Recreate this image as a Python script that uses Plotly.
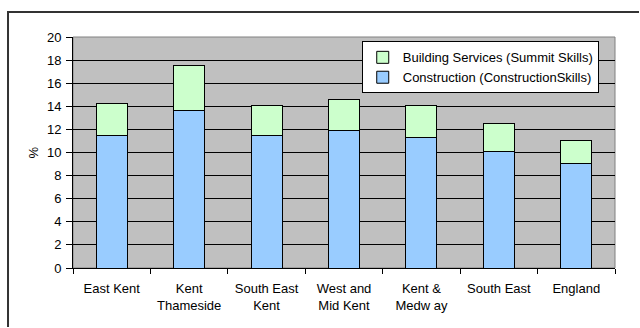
import plotly.graph_objects as go

areas = ["East Kent", "Kent<br>Thameside", "South East<br>Kent", "West and<br>Mid Kent",
         "Kent &<br>Medw ay", "South East", "England"]
construction = [11.43, 13.68, 11.43, 11.92, 11.31, 10.10, 9.03]
building_services = [2.82, 3.86, 2.65, 2.71, 2.77, 2.37, 2.05]
y_ticks = list(range(0, 21, 2))

font = dict(family="Arial, Liberation Sans, sans-serif", size=13, color="black")

W, H = 640, 328
ML, MR, MT, MB = 73, 25, 37, 60
pw, ph = W - ML - MR, H - MT - MB


def px_x(x):
    return (x - ML) / pw


def px_y(y):
    return 1 - (y - MT) / ph


# open path for the chart frame: up the left edge, then along the top
frame_path = "M {:.4f},{:.4f} L {:.4f},{:.4f} L {:.4f},{:.4f}".format(
    px_x(8), px_y(H - 1), px_x(8), px_y(12), px_x(W - 1), px_y(12))

fig = go.Figure()
fig.add_bar(x=areas, y=construction, name="Construction (ConstructionSkills)",
            marker=dict(color="#99CCFF", line=dict(color="black", width=1)))
fig.add_bar(x=areas, y=building_services, name="Building Services (Summit Skills)",
            marker=dict(color="#CCFFCC", line=dict(color="black", width=1)))

fig.update_layout(
    barmode="stack",
    bargap=0.6,
    width=W, height=H,
    margin=dict(l=ML, r=MR, t=MT, b=MB),
    paper_bgcolor="white",
    plot_bgcolor="#C0C0C0",
    font=font,
    showlegend=True,
    legend=dict(
        x=0.970, y=0.981, xanchor="right", yanchor="top",
        bgcolor="white", bordercolor="black", borderwidth=1,
        traceorder="reversed", font=font,
        itemwidth=30, tracegroupgap=0,
    ),
    xaxis=dict(
        showline=True, linecolor="black", linewidth=1,
        ticks="outside", tickson="boundaries", ticklen=5, tickcolor="black",
        showgrid=False, tickfont=font, ticklabelstandoff=8,
    ),
    yaxis=dict(
        range=[0, 20], tickvals=y_ticks,
        showline=True, linecolor="black", linewidth=1,
        ticks="outside", ticklen=6, tickcolor="black",
        showgrid=True, gridcolor="black", gridwidth=1,
        zeroline=False, tickfont=font, ticklabelstandoff=2,
    ),
    annotations=[
        dict(text="%", xref="paper", yref="paper", x=px_x(33), y=0.5,
             textangle=-90, showarrow=False, font=font,
             xanchor="center", yanchor="middle"),
    ],
    shapes=[
        # plot-area border
        dict(type="rect", xref="paper", yref="paper", x0=0, x1=1, y0=0, y1=1,
             line=dict(color="#808080", width=1), layer="between"),
        # outer chart frame (top and left edges)
        dict(type="path", xref="paper", yref="paper", path=frame_path,
             fillcolor="rgba(0,0,0,0)",
             line=dict(color="#333333", width=2), layer="above"),
    ],
)

fig.write_html("out.html")
